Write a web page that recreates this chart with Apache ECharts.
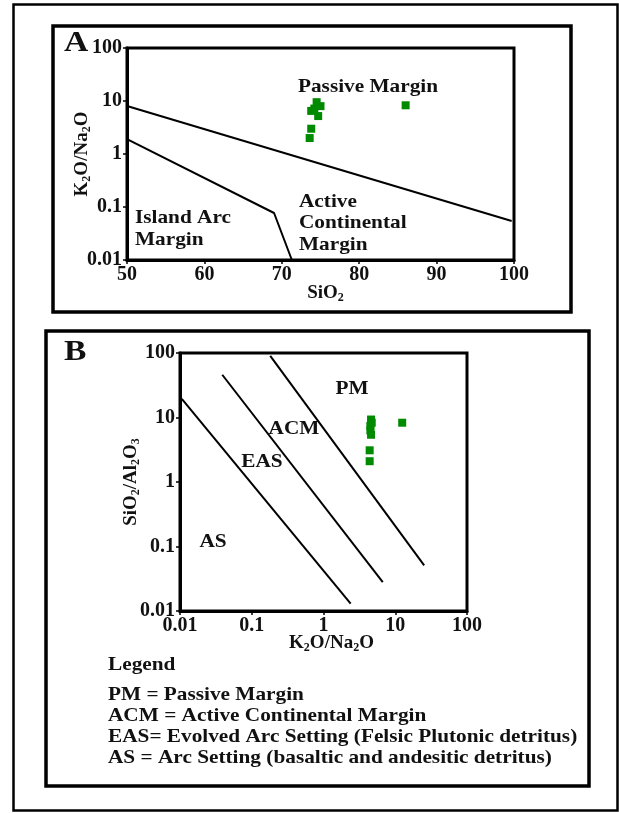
<!DOCTYPE html>
<html>
<head>
<meta charset="utf-8">
<script src="https://cdn.jsdelivr.net/npm/echarts@6/dist/echarts.min.js"></script>
<style>
html, body { margin: 0; padding: 0; background: #fff; }
#main { width: 619px; height: 813px; }
</style>
</head>
<body>
<div id="main"></div>
<script>
// panel A : SiO2 vs K2O/Na2O
var aSiO2 = [74.5, 75.0, 73.8, 74.2, 74.7, 73.8, 73.6, 86.0];
var aK2ONa2O = [9.5, 8.0, 6.5, 7.2, 5.2, 3.0, 2.0, 8.3];
// discriminant lines A
var aUpperX = [50, 99.7];
var aUpperY = [8.05, 0.0545];
var aLowerX = [50, 69.0, 71.3];
var aLowerY = [1.9, 0.077, 0.01];

// panel B : K2O/Na2O vs SiO2/Al2O3
var bK2ONa2O = [4.6, 4.7, 4.5, 4.5, 4.6, 4.4, 4.4, 12.5];
var bSiO2Al2O3 = [9.3, 8.3, 7.4, 6.3, 5.4, 3.1, 2.1, 8.3];
// discriminant lines B
var bAsX = [0.0106, 2.39];
var bAsY = [19.5, 0.013];
var bEasX = [0.0388, 6.7];
var bEasY = [46, 0.028];
var bAcmX = [0.181, 25.3];
var bAcmY = [90, 0.051];

var legendLines = [
	'PM = Passive Margin',
	'ACM = Active Continental Margin',
	'EAS= Evolved Arc Setting (Felsic Plutonic detritus)',
	'AS = Arc Setting (basaltic and andesitic detritus)'
];

function pairs(xs, ys) {
	var out = [];
	for (var i = 0; i < xs.length; i++) {
		out.push([xs[i], ys[i]]);
	}
	return out;
}

var FONT = "'Liberation Serif', 'Times New Roman', serif";
var INK = '#111';
var GREEN = '#008a00';

var richName = {
	b : { fontFamily : FONT, fontWeight : 'bold', fontSize : 19, color : INK },
	s : { fontFamily : FONT, fontWeight : 'bold', fontSize : 12, color : INK, padding : [9, 0, 0, 0] }
};

var axisCommon = {
	axisLine : { show : true, lineStyle : { color : '#000', width : 3 } },
	axisTick : { show : true, length : 4, lineStyle : { color : '#000', width : 1.5 } },
	splitLine : { show : false },
	axisLabel : { fontFamily : FONT, fontWeight : 'bold', fontSize : 20, color : INK, margin : 5 },
	nameMoveOverlap : false
};

function extend(base, more) {
	var o = JSON.parse(JSON.stringify(base));
	for (var k in more) {
		o[k] = more[k];
	}
	return o;
}

var lineStyleBlack = { color : '#000', width : 2 };
var pointStyle = { color : GREEN, opacity : 1 };

var option = {
	backgroundColor : '#fff',
	animation : false,
	grid : [ {
		left : 127, top : 48, width : 387, height : 212,
		show : true, borderColor : '#000', borderWidth : 3
	}, {
		left : 180, top : 353, width : 287, height : 258,
		show : true, borderColor : '#000', borderWidth : 3
	} ],
	xAxis : [
		extend(axisCommon, {
			gridIndex : 0, type : 'value', min : 50, max : 100, interval : 10,
			name : '{b|SiO}{s|2}', nameLocation : 'middle', nameGap : 23,
			nameTextStyle : { rich : richName, padding : [0, 0, 0, 10] }
		}),
		extend(axisCommon, {
			gridIndex : 1, type : 'log', logBase : 10, min : 0.01, max : 100,
			name : '{b|K}{s|2}{b|O/Na}{s|2}{b|O}', nameLocation : 'middle', nameGap : 22,
			nameTextStyle : { rich : richName, padding : [0, 0, 0, 16] }
		})
	],
	yAxis : [
		extend(axisCommon, {
			gridIndex : 0, type : 'log', logBase : 10, min : 0.01, max : 100,
			name : '{b|K}{s|2}{b|O/Na}{s|2}{b|O}', nameLocation : 'middle', nameGap : 34,
			nameRotate : 90, nameTextStyle : { rich : richName }
		}),
		extend(axisCommon, {
			gridIndex : 1, type : 'log', logBase : 10, min : 0.01, max : 100,
			name : '{b|SiO}{s|2}{b|/Al}{s|2}{b|O}{s|3}', nameLocation : 'middle', nameGap : 38,
			nameRotate : 90, nameTextStyle : { rich : richName }
		})
	],
	series : [ {
		type : 'line', xAxisIndex : 0, yAxisIndex : 0, symbol : 'none',
		lineStyle : lineStyleBlack, data : pairs(aUpperX, aUpperY)
	}, {
		type : 'line', xAxisIndex : 0, yAxisIndex : 0, symbol : 'none',
		lineStyle : lineStyleBlack, data : pairs(aLowerX, aLowerY)
	}, {
		type : 'scatter', xAxisIndex : 0, yAxisIndex : 0, symbol : 'rect', symbolSize : 8,
		itemStyle : pointStyle, data : pairs(aSiO2, aK2ONa2O)
	}, {
		type : 'line', xAxisIndex : 1, yAxisIndex : 1, symbol : 'none',
		lineStyle : lineStyleBlack, data : pairs(bAsX, bAsY)
	}, {
		type : 'line', xAxisIndex : 1, yAxisIndex : 1, symbol : 'none',
		lineStyle : lineStyleBlack, data : pairs(bEasX, bEasY)
	}, {
		type : 'line', xAxisIndex : 1, yAxisIndex : 1, symbol : 'none',
		lineStyle : lineStyleBlack, data : pairs(bAcmX, bAcmY)
	}, {
		type : 'scatter', xAxisIndex : 1, yAxisIndex : 1, symbol : 'rect', symbolSize : 8,
		itemStyle : pointStyle, data : pairs(bK2ONa2O, bSiO2Al2O3)
	} ],
	graphic : []
};

// frames
option.graphic.push({ type : 'rect', shape : { x : 13.5, y : 4.5, width : 604, height : 806 },
	style : { fill : 'none', stroke : '#000', lineWidth : 2.5 } });
option.graphic.push({ type : 'rect', shape : { x : 53, y : 26, width : 518, height : 286 },
	style : { fill : 'none', stroke : '#000', lineWidth : 3.5 } });
option.graphic.push({ type : 'rect', shape : { x : 46, y : 331, width : 543, height : 455 },
	style : { fill : 'none', stroke : '#000', lineWidth : 3.5 } });

// text is a bit stretched horizontally in the original
function txt(x, y, s, size, align) {
	option.graphic.push({
		type : 'text', x : x, y : y, scaleX : 1.12,
		style : {
			text : s, fill : INK, font : 'bold ' + size + 'px ' + FONT,
			textAlign : align || 'left', textVerticalAlign : 'middle'
		}
	});
}

// panel letters
txt(64, 43, 'A', 30);
txt(64, 352, 'B', 30);

// region names A
txt(368, 87, 'Passive Margin', 19, 'center');
txt(135, 218, 'Island Arc', 19);
txt(135, 240, 'Margin', 19);
txt(299, 202, 'Active', 19);
txt(299, 223, 'Continental', 19);
txt(299, 245, 'Margin', 19);

// region names B
txt(352, 389, 'PM', 19, 'center');
txt(294, 429, 'ACM', 19, 'center');
txt(262, 462, 'EAS', 19, 'center');
txt(213, 542, 'AS', 19, 'center');

// legend
txt(108, 665, 'Legend', 19);
for (var i = 0; i < legendLines.length; i++) {
	txt(108, 695 + i * 21, legendLines[i], 19);
}

var myChart = echarts.init(document.getElementById('main'));
myChart.setOption(option);
</script>
</body>
</html>
